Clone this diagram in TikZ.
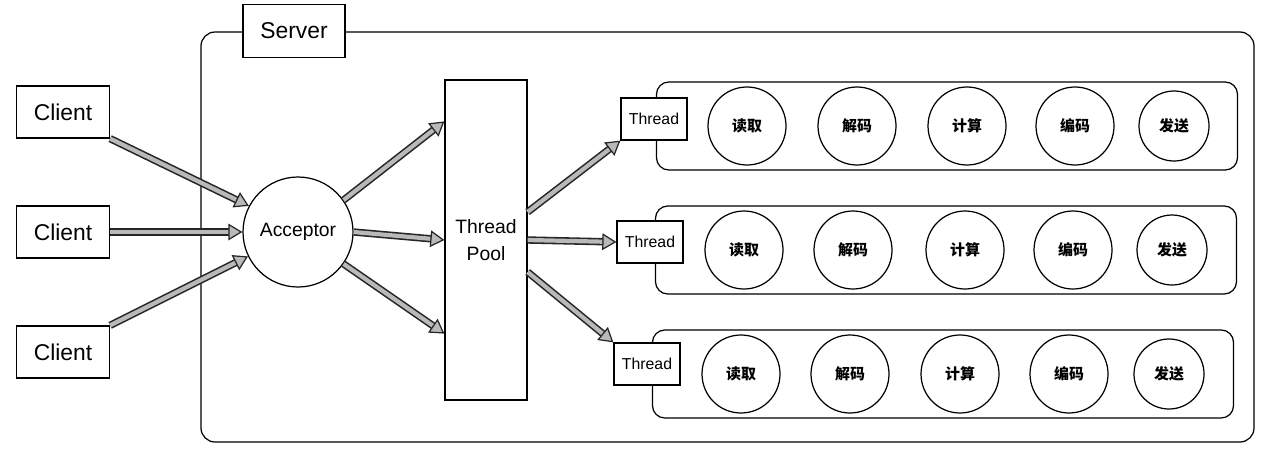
\documentclass[tikz,border=0pt]{standalone}
\usepackage{fontspec}
\setmainfont{Liberation Sans}
\newfontfamily\cjk{Noto Sans CJK SC}
\usetikzlibrary{arrows.meta, shapes}

\begin{document}
\begin{tikzpicture}[
    x=0.2mm, y=-0.2mm,
    line width=0.7pt,
    box/.style={draw,fill=white,font=\fontsize{13}{15}\selectfont,minimum width=1.86cm,minimum height=1.04cm},
    thr/.style={draw,fill=white,font=\fontsize{9}{11}\selectfont,minimum width=1.32cm,minimum height=0.84cm,inner sep=1pt},
    lane/.style={draw,rounded corners=7pt,minimum width=11.62cm,minimum height=1.76cm},
    stage/.style={draw,circle,fill=white,minimum size=1.56cm,font=\cjk\bfseries\fontsize{8.5}{10}\selectfont},
    fat/.style={draw=gray!55,line width=2.4pt,
      preaction={-,draw=black!85,line width=4.2pt,shorten >=6pt},
      -{Triangle[length=8pt,width=9.5pt,color=black!85,fill=gray!55,line width=0.7pt]}}]
  \useasboundingbox (0,0) rectangle (1262,471);
  \draw[rounded corners=8pt] (201,32) rectangle (1254,442);
  \node[box,minimum width=2.04cm,minimum height=1.06cm] (server) at (294,31) { Server };
  \node[box] (client1) at (63,112) { Client };
  \node[box] (client2) at (63,232) { Client };
  \node[box] (client3) at (63,352) { Client };
  \node[draw,circle,fill=white,minimum size=2.2cm,font=\fontsize{11}{13}\selectfont] (acceptor) at (298,232) { Acceptor };
  \node[draw,fill=white,minimum width=1.64cm,minimum height=6.4cm,align=center,font=\fontsize{11}{15}\selectfont] (pool) at (486,240) { Thread\\Pool };
  \node[lane] (lane1) at (947,126) {};
  \node[thr] (thread1) at (654,119) { Thread };
  \node[stage] (read1) at (747,126) { 读取 };
  \node[stage] (decode1) at (857,126) { 解码 };
  \node[stage] (compute1) at (967,126) { 计算 };
  \node[stage] (encode1) at (1075,126) { 编码 };
  \node[stage,minimum size=1.4cm] (send1) at (1174,126) { 发送 };
  \node[lane] (lane2) at (946,250) {};
  \node[thr] (thread2) at (650,242) { Thread };
  \node[stage] (read2) at (744,250) { 读取 };
  \node[stage] (decode2) at (853,250) { 解码 };
  \node[stage] (compute2) at (965,250) { 计算 };
  \node[stage] (encode2) at (1073,250) { 编码 };
  \node[stage,minimum size=1.4cm] (send2) at (1172,250) { 发送 };
  \node[lane] (lane3) at (943,374) {};
  \node[thr] (thread3) at (647,364) { Thread };
  \node[stage] (read3) at (741,374) { 读取 };
  \node[stage] (decode3) at (850,374) { 解码 };
  \node[stage] (compute3) at (960,374) { 计算 };
  \node[stage] (encode3) at (1069,374) { 编码 };
  \node[stage,minimum size=1.4cm] (send3) at (1169,374) { 发送 };
  \draw[fat] (client1.south east) -- (acceptor.152);
  \draw[fat] (client2.east) -- (acceptor.west);
  \draw[fat] (client3.north east) -- (acceptor.206);
  \draw[fat] (acceptor.35) -- ([yshift=-0.84cm]pool.north west);
  \draw[fat] (acceptor.east) -- (pool.west);
  \draw[fat] (acceptor.-35) -- ([yshift=1.34cm]pool.south west);
  \draw[fat] ([yshift=0.56cm]pool.east) -- (thread1.south west);
  \draw[fat] (pool.east) -- (thread2.west);
  \draw[fat] ([yshift=-0.64cm]pool.east) -- (thread3.north west);
\end{tikzpicture}
\end{document}
